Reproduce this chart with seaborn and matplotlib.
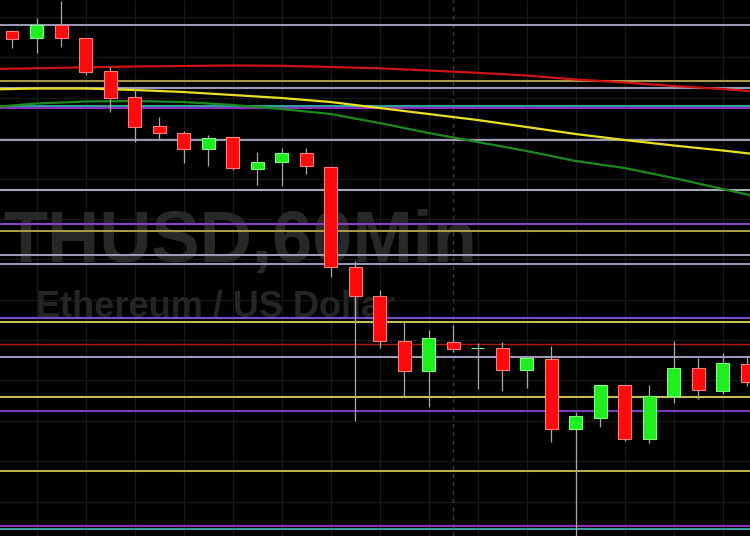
import numpy as np
import pandas as pd
import matplotlib
matplotlib.use("Agg")
import matplotlib.pyplot as plt
import seaborn as sns

# ETH/USD hourly candles
opens  = [246.9, 246.2, 247.5, 246.2, 242.9, 240.3, 237.4, 236.7, 235.1, 236.3,
          233.1, 233.8, 234.7, 233.3, 223.3, 220.4, 215.9, 212.9, 215.8, 215.2,
          215.2, 213.0, 214.1, 207.1, 208.2, 211.5, 206.1, 210.4, 213.2, 210.9, 213.6]
closes = [246.1, 247.5, 246.2, 242.8, 240.2, 237.3, 236.7, 235.1, 236.2, 233.2,
          233.8, 234.7, 233.4, 223.3, 220.4, 215.9, 212.9, 216.2, 215.1, 215.2,
          213.0, 214.2, 207.1, 208.4, 211.5, 206.1, 210.4, 213.2, 211.0, 213.7, 211.8]
highs  = [247.0, 248.2, 249.9, 246.2, 243.3, 241.3, 238.3, 236.9, 236.5, 236.3,
          234.8, 235.2, 235.2, 233.3, 223.9, 221.0, 217.8, 217.0, 217.5, 215.7,
          215.8, 214.2, 215.4, 208.8, 211.5, 211.5, 211.5, 215.9, 214.2, 214.7, 214.3]
lows   = [245.2, 244.7, 245.3, 242.5, 238.8, 235.8, 236.0, 233.7, 233.4, 233.0,
          231.5, 231.4, 232.6, 222.3, 207.9, 215.2, 210.3, 209.3, 214.8, 211.1,
          210.9, 211.2, 205.8, 196.0, 207.3, 205.9, 205.7, 209.7, 210.1, 210.6, 211.4]

# moving averages sampled at every other candle position
ma_pos    = [-1, 1, 3, 5, 7, 9, 11, 13, 15, 17, 19, 21, 23, 25, 27, 29, 31]
ma_red    = [243.1, 243.17, 243.27, 243.35, 243.4, 243.45, 243.42, 243.3, 243.17,
             242.95, 242.72, 242.45, 242.05, 241.75, 241.4, 241.1, 240.7]
ma_yellow = [241.05, 241.15, 241.15, 241.0, 240.8, 240.5, 240.2, 239.8, 239.2,
             238.6, 238.0, 237.3, 236.6, 236.0, 235.45, 234.95, 234.4]
ma_green  = [239.25, 239.65, 239.85, 239.9, 239.8, 239.5, 239.1, 238.6, 237.7,
             236.7, 235.8, 234.9, 233.9, 233.2, 232.2, 231.1, 230.0]

# horizontal support / resistance levels
levels = [247.5, 241.9, 241.2, 239.4, 239.2, 236.0, 231.0, 227.6, 226.9, 224.5,
          223.6, 218.2, 217.8, 215.6, 214.3, 210.3, 208.9, 202.9, 197.4, 197.1]
level_colors = ["#9a9ab4", "#a89a4a", "#9a9ab4", "#2f9d9d", "#8a30bc", "#9a9ab4",
                "#a8a8b8", "#8a40c0", "#a89a4a", "#9a9ab4", "#9a9ab4", "#7a50c8",
                "#c8c050", "#b01818", "#9a9ab4", "#c8c050", "#7a40c0", "#b8b040",
                "#9030b0", "#2f9d9d"]

grid_levels = [248.3, 244.3, 240.2, 236.2, 232.1, 228.1, 224.1, 220.0, 216.0,
               212.0, 207.9, 203.9, 199.8]

candles = pd.DataFrame({"open": opens, "close": closes, "high": highs, "low": lows})
candles["idx"] = np.arange(len(candles))
candles["up"] = candles["close"] >= candles["open"]

sns.set_style("dark", {"axes.facecolor": "black", "figure.facecolor": "black"})
plt.rcParams["font.family"] = ["Liberation Sans", "DejaVu Sans"]

fig = plt.figure(figsize=(7.5, 5.36), dpi=100)
ax = fig.add_axes([0, 0, 1, 1])
ax.set_facecolor("black")

# faint grid
for g in grid_levels:
    ax.axhline(g, color="#171717", lw=1, zorder=0)
for v in range(1, 31, 2):
    ax.axvline(v, color="#171717", lw=1, zorder=0)
ax.axvline(18, color="#3a3a3a", lw=1, ls=(0, (3, 3)), zorder=0.5)

# watermark
ax.text(0.004, 0.511, "THUSD,60Min", transform=ax.transAxes, fontsize=52,
        fontweight="bold", color="#282828", va="baseline", ha="left", zorder=0.6)
ax.text(0.048, 0.410, "Ethereum / US Dollar", transform=ax.transAxes, fontsize=26,
        fontweight="bold", color="#252525", va="baseline", ha="left", zorder=0.6)

# levels
for lv, c in zip(levels, level_colors):
    lw = 1.0 if c == "#b01818" else 1.5
    ax.axhline(lv, color=c, lw=lw, zorder=1)

# moving averages
ma = pd.DataFrame({"pos": ma_pos, "red": ma_red, "yellow": ma_yellow, "green": ma_green})
sns.lineplot(data=ma, x="pos", y="red", ax=ax, color="#d01414", lw=1.6, zorder=2)
sns.lineplot(data=ma, x="pos", y="yellow", ax=ax, color="#e8e020", lw=1.6, zorder=2)
sns.lineplot(data=ma, x="pos", y="green", ax=ax, color="#1c8a1c", lw=1.6, zorder=2)

# candles
ax.vlines(candles["idx"], candles["low"], candles["high"], color="#a8a8a8", lw=0.9, zorder=3)
body_col = np.where(candles["up"], "#20ee20", "#ff0a0a")
edge_col = np.where(candles["up"], "#7aff7a", "#ff7a7a")
ax.bar(candles["idx"], candles["close"] - candles["open"], bottom=candles["open"],
       width=0.53, color=body_col, edgecolor=edge_col, linewidth=0.8, zorder=4)

ax.set_xlim(-0.49, 30.12)
ax.set_ylim(196.4, 250)
ax.set_xlabel("")
ax.set_ylabel("")
ax.set_xticks([])
ax.set_yticks([])
for s in ax.spines.values():
    s.set_visible(False)

fig.savefig("out.png", dpi=100, facecolor="black")
